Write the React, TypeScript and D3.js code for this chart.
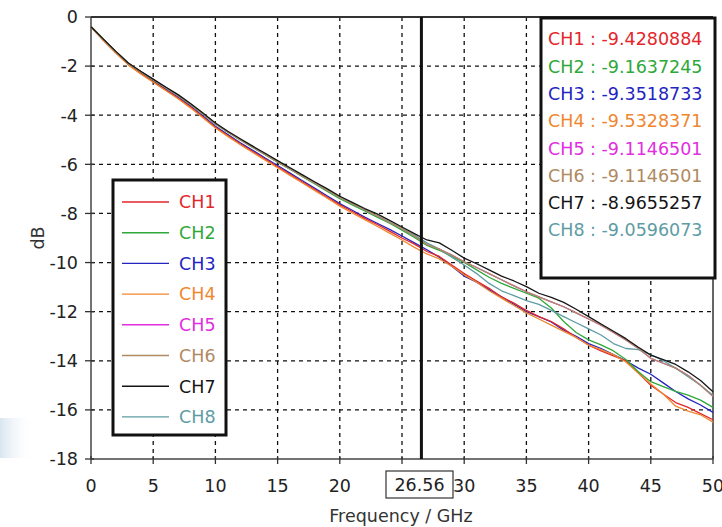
import React from "react";
import * as d3 from "d3";

const freqs: number[] = [
  0, 1, 2, 3, 4, 5, 6, 7, 8, 9, 10, 11, 12, 13, 14, 15, 16, 17, 18, 19, 20,
  21, 22, 23, 24, 25, 26, 27, 28, 29, 30, 31, 32, 33, 34, 35, 36, 37, 38, 39, 40,
  41, 42, 43, 44, 45, 46, 47, 48, 49, 50,
];

const ch1: number[] = [
  -0.41, -0.95, -1.46, -1.94, -2.3, -2.64, -2.97, -3.3, -3.67, -4.07, -4.49, -4.83, -5.16, -5.48, -5.79, -6.1, -6.41, -6.72, -7.03, -7.34, -7.65,
  -7.92, -8.2, -8.45, -8.72, -9.0, -9.25, -9.55, -9.75, -10.1, -10.45, -10.75, -11.05, -11.4, -11.65, -11.95, -12.2, -12.4, -12.7, -13.05, -13.36,
  -13.6, -13.8, -14.0, -14.5, -15.0, -15.35, -15.7, -15.9, -16.15, -16.4,
];
const ch2: number[] = [
  -0.37, -0.9, -1.41, -1.88, -2.23, -2.56, -2.88, -3.2, -3.56, -3.95, -4.36, -4.69, -5.01, -5.31, -5.61, -5.91, -6.2, -6.5, -6.8, -7.1, -7.4,
  -7.65, -7.9, -8.15, -8.4, -8.68, -8.98, -9.3, -9.5, -9.75, -10.0, -10.3, -10.6, -10.85, -11.05, -11.25, -11.45, -11.85, -12.4, -12.85, -13.15,
  -13.35, -13.6, -13.95, -14.45, -14.85, -15.05, -15.25, -15.4, -15.6, -15.9,
];
const ch3: number[] = [
  -0.4, -0.94, -1.44, -1.92, -2.28, -2.61, -2.94, -3.27, -3.63, -4.03, -4.45, -4.79, -5.12, -5.43, -5.74, -6.05, -6.36, -6.67, -6.98, -7.29, -7.6,
  -7.87, -8.15, -8.4, -8.65, -8.92, -9.2, -9.48, -9.78, -10.15, -10.55, -10.8, -11.1, -11.4, -11.7, -12.0, -12.2, -12.42, -12.75, -13.0, -13.3,
  -13.5, -13.75, -14.0, -14.3, -14.55, -14.9, -15.25, -15.55, -15.8, -16.1,
];
const ch4: number[] = [
  -0.41, -0.96, -1.47, -1.95, -2.32, -2.66, -2.99, -3.33, -3.7, -4.1, -4.52, -4.86, -5.2, -5.52, -5.83, -6.14, -6.45, -6.76, -7.07, -7.38, -7.7,
  -7.98, -8.25, -8.52, -8.8, -9.08, -9.38, -9.65, -9.85, -10.15, -10.5, -10.8, -11.15, -11.45, -11.75, -12.05, -12.3, -12.55, -12.8, -13.05, -13.36,
  -13.55, -13.75, -14.05, -14.5, -14.95, -15.35, -15.85, -16.05, -16.2, -16.5,
];
const ch5: number[] = [
  -0.4, -0.91, -1.41, -1.88, -2.23, -2.55, -2.87, -3.19, -3.55, -3.94, -4.35, -4.68, -5.0, -5.3, -5.6, -5.9, -6.19, -6.48, -6.77, -7.06, -7.35,
  -7.6, -7.85, -8.1, -8.37, -8.62, -8.92, -9.27, -9.45, -9.7, -9.97, -10.2, -10.45, -10.7, -10.95, -11.19, -11.4, -11.6, -11.8, -12.05, -12.3,
  -12.55, -12.85, -13.15, -13.5, -13.9, -14.1, -14.3, -14.6, -15.0, -15.45,
];
const ch6: number[] = [
  -0.4, -0.91, -1.41, -1.88, -2.23, -2.55, -2.87, -3.19, -3.55, -3.94, -4.35, -4.68, -5.0, -5.3, -5.6, -5.9, -6.19, -6.48, -6.77, -7.06, -7.35,
  -7.6, -7.85, -8.1, -8.37, -8.62, -8.92, -9.27, -9.45, -9.7, -9.97, -10.2, -10.45, -10.7, -10.95, -11.19, -11.4, -11.6, -11.8, -12.05, -12.3,
  -12.55, -12.85, -13.15, -13.5, -13.9, -14.1, -14.3, -14.6, -15.0, -15.45,
];
const ch7: number[] = [
  -0.4, -0.9, -1.4, -1.87, -2.21, -2.53, -2.85, -3.16, -3.52, -3.91, -4.32, -4.65, -4.96, -5.26, -5.55, -5.85, -6.14, -6.43, -6.72, -7.0, -7.3,
  -7.55, -7.8, -8.02, -8.28, -8.55, -8.82, -9.08, -9.2, -9.5, -9.82, -10.05, -10.3, -10.55, -10.75, -10.98, -11.25, -11.42, -11.62, -11.9, -12.2,
  -12.5, -12.8, -13.1, -13.45, -13.77, -13.95, -14.15, -14.45, -14.8, -15.26,
];
const ch8: number[] = [
  -0.4, -0.91, -1.41, -1.88, -2.23, -2.55, -2.87, -3.19, -3.55, -3.94, -4.35, -4.68, -5.0, -5.3, -5.6, -5.9, -6.19, -6.48, -6.77, -7.06, -7.35,
  -7.6, -7.85, -8.1, -8.35, -8.62, -8.88, -9.2, -9.45, -9.78, -10.1, -10.45, -10.85, -11.15, -11.35, -11.55, -11.7, -11.95, -12.2, -12.45, -12.7,
  -12.95, -13.3, -13.5, -13.55, -13.75, -14.0, -14.3, -14.65, -15.0, -15.4,
];

const channelNames: string[] = ["CH1", "CH2", "CH3", "CH4", "CH5", "CH6", "CH7", "CH8"];
const channelColors: string[] = ["#e3262b", "#2fa83a", "#2424c0", "#f0872e", "#e02ee0", "#b08a62", "#151515", "#5e9ca4"];
const channelSeries: number[][] = [ch1, ch2, ch3, ch4, ch5, ch6, ch7, ch8];
const markerValues: string[] = ["-9.4280884", "-9.1637245", "-9.3518733", "-9.5328371", "-9.1146501", "-9.1146501", "-8.9655257", "-9.0596073"];
const markerFreq = 26.56;
const xTicks: number[] = [0, 5, 10, 15, 20, 25, 30, 35, 40, 45, 50];
const yTicks: number[] = [0, -2, -4, -6, -8, -10, -12, -14, -16, -18];

const W = 722;
const H = 527;
const left = 91;
const right = 713;
const top = 17;
const bottom = 459;
const FONT = "'DejaVu Sans', Verdana, sans-serif";

export default function App() {
  const x = d3.scaleLinear().domain([0, 50]).range([left, right]);
  const y = d3.scaleLinear().domain([-18, 0]).range([bottom, top]);
  const line = d3
    .line<[number, number]>()
    .x((d) => x(d[0]))
    .y((d) => y(d[1]));

  const mx = x(markerFreq);
  const drawOrder = [4, 2, 0, 3, 1, 7, 5, 6];

  return (
    <svg
      width={W}
      height={H}
      style={{ position: "absolute", left: 0, top: 0, background: "#fff" }}
      fontFamily={FONT}
    >
      <defs>
        <linearGradient id="bgPatch" x1="0" x2="1" y1="0" y2="0">
          <stop offset="0%" stopColor="#d4e3ee" stopOpacity={0.9} />
          <stop offset="100%" stopColor="#ffffff" stopOpacity={0} />
        </linearGradient>
      </defs>
      <rect x={0} y={0} width={W} height={H} fill="#fff" />
      <rect x={0} y={418} width={34} height={40} fill="url(#bgPatch)" />

      {/* grid */}
      {xTicks.filter((t) => t > 0 && t < 50).map((t) => (
        <line key={"gx" + t} x1={x(t)} x2={x(t)} y1={top} y2={bottom} stroke="#111" strokeWidth={1.3} strokeDasharray="4,4" />
      ))}
      {yTicks.filter((t) => t < 0 && t > -18).map((t) => (
        <line key={"gy" + t} x1={left} x2={right} y1={y(t)} y2={y(t)} stroke="#111" strokeWidth={1.3} strokeDasharray="4,4" />
      ))}

      {/* frame */}
      <line x1={left} x2={right} y1={top} y2={top} stroke="#333" strokeWidth={2} />
      <line x1={right} x2={right} y1={top} y2={bottom} stroke="#333" strokeWidth={1.5} />
      <line x1={left} x2={left} y1={top} y2={bottom} stroke="#444" strokeWidth={1.5} />
      <line x1={left} x2={right} y1={bottom} y2={bottom} stroke="#444" strokeWidth={1.5} />

      {/* ticks */}
      {yTicks.map((t) => (
        <line key={"ty" + t} x1={left - 6} x2={left + 3} y1={y(t)} y2={y(t)} stroke="#333" strokeWidth={1.3} />
      ))}
      {xTicks.map((t) => (
        <line key={"tx" + t} x1={x(t)} x2={x(t)} y1={bottom - 3} y2={bottom + 5} stroke="#333" strokeWidth={1.3} />
      ))}

      {/* series */}
      {drawOrder.map((i) => (
        <path
          key={channelNames[i]}
          d={line(freqs.map((f, k) => [f, channelSeries[i][k]] as [number, number])) || ""}
          fill="none"
          stroke={channelColors[i]}
          strokeWidth={1.3}
          strokeLinejoin="round"
        />
      ))}

      {/* marker */}
      <line x1={mx} x2={mx} y1={top} y2={bottom} stroke="#111" strokeWidth={3} />

      {/* tick labels */}
      {yTicks.map((t) => (
        <text key={"ly" + t} x={78} y={y(t)} dy="0.36em" textAnchor="end" fontSize={17.5} fill="#222">
          {t}
        </text>
      ))}
      {xTicks.map((t) => (
        <text key={"lx" + t} x={x(t)} y={486} dy="0.36em" textAnchor="middle" fontSize={17.5} fill="#222">
          {t}
        </text>
      ))}

      {/* marker label */}
      <rect x={386} y={471} width={67} height={27} fill="#fff" stroke="#333" strokeWidth={1.2} />
      <text x={419.5} y={485} dy="0.36em" textAnchor="middle" fontSize={17.5} fill="#222">
        {markerFreq.toFixed(2)}
      </text>

      {/* axis titles */}
      <text x={401} y={516} dy="0.36em" textAnchor="middle" fontSize={17.5} fill="#333">
        Frequency / GHz
      </text>
      <text transform="translate(38,238) rotate(-90)" dy="0.36em" textAnchor="middle" fontSize={17.5} fill="#333">
        dB
      </text>

      {/* legend */}
      <rect x={113} y={180} width={113} height={255} fill="#fff" stroke="#111" strokeWidth={3} />
      {channelNames.map((n, i) => (
        <g key={"leg" + n}>
          <line x1={122} x2={169} y1={202 + i * 30.7} y2={202 + i * 30.7} stroke={channelColors[i]} strokeWidth={1.4} />
          <text x={179} y={202 + i * 30.7} dy="0.36em" fontSize={17.5} fill={channelColors[i]}>
            {n}
          </text>
        </g>
      ))}

      {/* values box */}
      <rect x={541} y={18} width={174} height={260} fill="#fff" stroke="#111" strokeWidth={3} />
      {channelNames.map((n, i) => (
        <text key={"val" + n} x={548} y={39 + i * 27.3} dy="0.36em" fontSize={17.5} fill={channelColors[i]}>
          {n + " : " + markerValues[i]}
        </text>
      ))}
    </svg>
  );
}
